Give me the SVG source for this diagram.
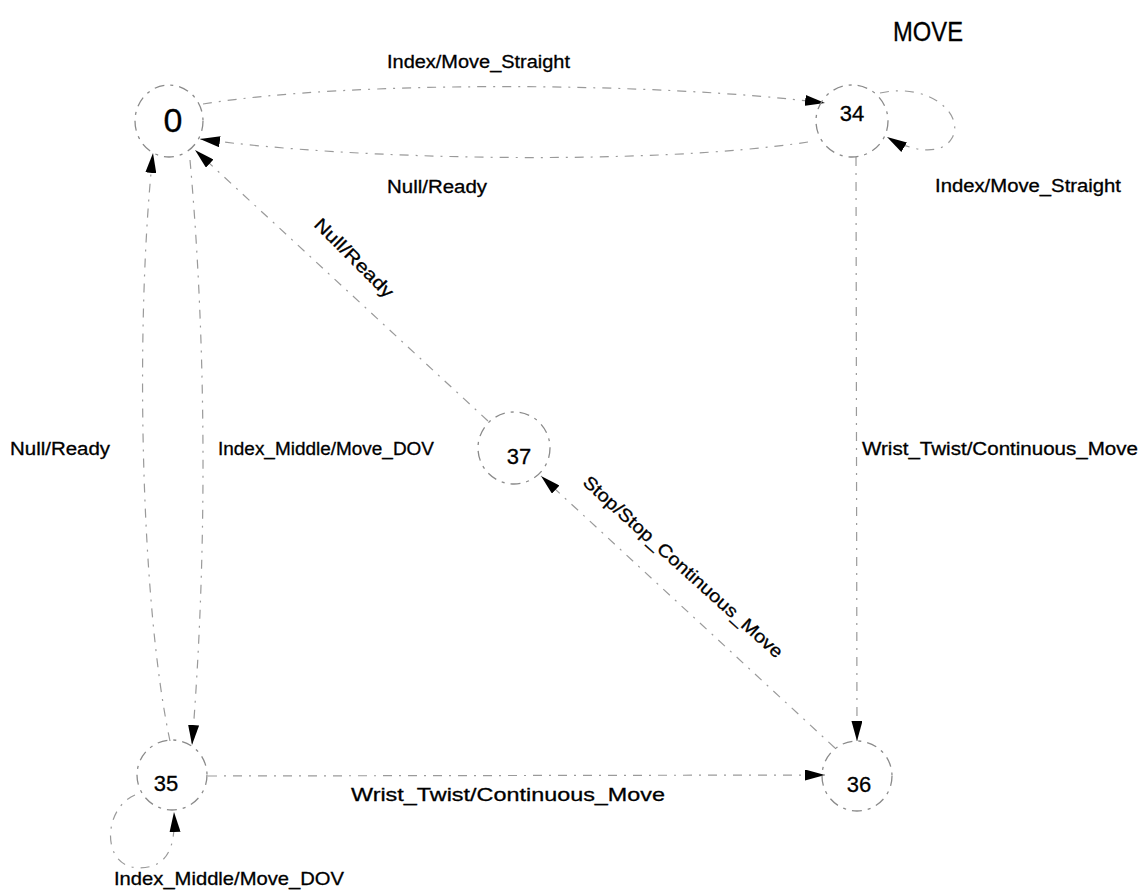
<svg xmlns="http://www.w3.org/2000/svg" width="1143" height="893" viewBox="0 0 1143 893">
<style>
.bg{fill:#ffffff}
.st{fill:none;stroke:#8a8a8a;stroke-width:1.3;stroke-dasharray:10 6 3 6}
.cn{fill:none;stroke:#9a9a9a;stroke-width:1.2;stroke-dasharray:9 7 2 7}
.nt{font-family:"Liberation Sans",Arial,Helvetica,sans-serif;fill:#000;text-anchor:middle;stroke:#000;stroke-width:0.3}
.lb{font-family:"Liberation Sans",Arial,Helvetica,sans-serif;fill:#000;stroke:#000;stroke-width:0.3}
</style>
<defs>
<marker id="ah" viewBox="0 0 20 11" refX="20" refY="5.5" markerWidth="20" markerHeight="11" markerUnits="userSpaceOnUse" orient="auto">
<path d="M0,0 L20,5.5 L0,11 z" fill="#000"/>
</marker>
</defs>
<rect class="bg" x="0" y="0" width="1143" height="893"/>
<text class="lb" x="893" y="41" style="font-size:28px" textLength="70" lengthAdjust="spacingAndGlyphs">MOVE</text>
<g id="connectors">
<path class="cn" d="M203,104 C350,80 660,82 825,103" marker-end="url(#ah)"/>
<path class="cn" d="M808,142 C650,166 350,160 200,139" marker-end="url(#ah)"/>
<path class="cn" d="M880,93 C930,82 965,115 952,138 C942,156 912,152 887,137" marker-end="url(#ah)"/>
<path class="cn" d="M488,421 L195,150" marker-end="url(#ah)"/>
<path class="cn" d="M835,748 L541,476" marker-end="url(#ah)"/>
<path class="cn" d="M856,157 L857,741" marker-end="url(#ah)"/>
<path class="cn" d="M170,741 C140,600 135,320 153,153" marker-end="url(#ah)"/>
<path class="cn" d="M190,160 C207,350 207,560 192,745" marker-end="url(#ah)"/>
<path class="cn" d="M208,776 L825,775" marker-end="url(#ah)"/>
<path class="cn" d="M135,795 C103,808 100,868 140,868 C166,867 176,850 174,812" marker-end="url(#ah)"/>
<text class="lb" x="387" y="68" style="font-size:18px" textLength="183" lengthAdjust="spacingAndGlyphs">Index/Move_Straight</text>
<text class="lb" x="387" y="193" style="font-size:18px" textLength="100" lengthAdjust="spacingAndGlyphs">Null/Ready</text>
<text class="lb" x="935" y="192" style="font-size:18px" textLength="186" lengthAdjust="spacingAndGlyphs">Index/Move_Straight</text>
<text class="lb" transform="translate(354,258) rotate(45)" x="0" y="6" text-anchor="middle" style="font-size:18px" textLength="104" lengthAdjust="spacingAndGlyphs">Null/Ready</text>
<text class="lb" transform="translate(683,567) rotate(42)" x="0" y="6" text-anchor="middle" style="font-size:18px" textLength="262" lengthAdjust="spacingAndGlyphs">Stop/Stop_Continuous_Move</text>
<text class="lb" x="862" y="455" style="font-size:18px" textLength="276" lengthAdjust="spacingAndGlyphs">Wrist_Twist/Continuous_Move</text>
<text class="lb" x="10" y="455" style="font-size:18px" textLength="100" lengthAdjust="spacingAndGlyphs">Null/Ready</text>
<text class="lb" x="218" y="455" style="font-size:18px" textLength="216" lengthAdjust="spacingAndGlyphs">Index_Middle/Move_DOV</text>
<text class="lb" x="351" y="801" style="font-size:19px" textLength="314" lengthAdjust="spacingAndGlyphs">Wrist_Twist/Continuous_Move</text>
<text class="lb" x="114" y="885" style="font-size:19px" textLength="230" lengthAdjust="spacingAndGlyphs">Index_Middle/Move_DOV</text>
</g>
<g id="node-0">
<ellipse class="st" cx="169" cy="121" rx="34" ry="36"/>
<text class="nt" x="173" y="132" style="font-size:34px">0</text>
</g>
<g id="node-34">
<circle class="st" cx="852" cy="121" r="36"/>
<text class="nt" x="852" y="121" style="font-size:22px">34</text>
</g>
<g id="node-37">
<circle class="st" cx="514" cy="448" r="36"/>
<text class="nt" x="519" y="464" style="font-size:22px">37</text>
</g>
<g id="node-35">
<circle class="st" cx="172" cy="775" r="35"/>
<text class="nt" x="166" y="791" style="font-size:22px">35</text>
</g>
<g id="node-36">
<circle class="st" cx="857" cy="776" r="35"/>
<text class="nt" x="859" y="792" style="font-size:22px">36</text>
</g>
</svg>
